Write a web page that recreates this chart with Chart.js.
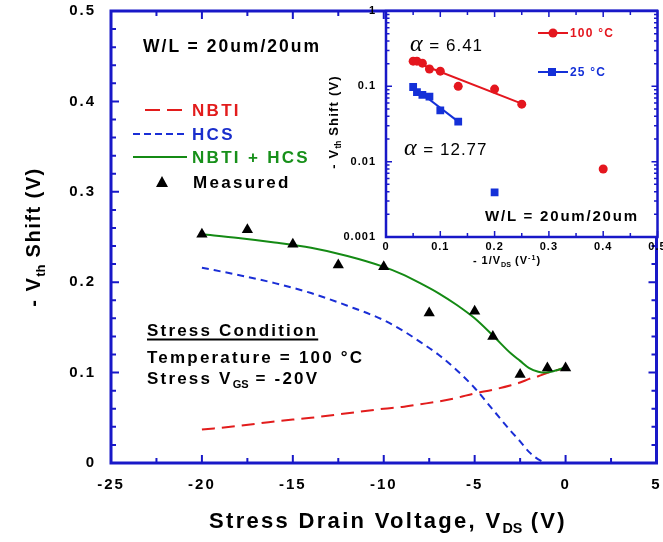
<!DOCTYPE html>
<html>
<head>
<meta charset="utf-8">
<title>Vth shift vs stress drain voltage</title>
<script src="https://cdn.jsdelivr.net/npm/chart.js@4.4.1/dist/chart.umd.min.js"></script>
<style>
    html, body { margin: 0; padding: 0; background: #fff; }
    #page { position: relative; width: 663px; height: 542px; overflow: hidden; }
    canvas { position: absolute; top: 0; }
    .txt { position: absolute; white-space: nowrap; font-family: "Liberation Sans", Arial, sans-serif;
           font-weight: bold; line-height: 1; transform: translateY(-50%); color: #000; }
    .mid { transform: translate(-50%, -50%); }
    .rot { transform: translate(-50%, -50%) rotate(-90deg); }
    .sub { font-size: 65%; position: relative; top: 0.35em; letter-spacing: 0; }
    .sup { font-size: 65%; position: relative; top: -0.55em; }
    .alpha { font-family: "Liberation Serif", "DejaVu Serif", serif; font-style: italic;
             font-weight: normal; font-size: 24px; }
</style>
</head>
<body>
<div id="page">
    <canvas id="mainChart" width="663" height="542" style="left:0"></canvas>
    <canvas id="insetChart" width="363" height="280" style="left:300px"></canvas>

    <!-- legend keys -->
    <svg width="663" height="542" style="position:absolute;left:0;top:0">
        <line x1="145" y1="110" x2="182" y2="110" stroke="#e21c1c" stroke-width="2" stroke-dasharray="15 7"/>
        <line x1="133" y1="134" x2="187" y2="134" stroke="#1a2ed6" stroke-width="2" stroke-dasharray="7 4"/>
        <line x1="133" y1="157" x2="187" y2="157" stroke="#148a14" stroke-width="2"/>
        <polygon points="162,176 168,187 156,187" fill="#000"/>
        <line x1="538" y1="33" x2="568" y2="33" stroke="#e4161e" stroke-width="2"/>
        <circle cx="553" cy="33" r="4.5" fill="#e4161e"/>
        <line x1="538" y1="72" x2="568" y2="72" stroke="#1430d8" stroke-width="2"/>
        <rect x="548" y="68" width="8" height="8" fill="#1430d8"/>
    </svg>

    <!-- main plot texts -->
    <div class="txt" style="left:143px;top:47px;font-size:17.5px;letter-spacing:2px">W/L = 20um/20um</div>
    <div class="txt" style="left:192px;top:110px;font-size:17px;letter-spacing:2.3px;color:#e21c1c">NBTI</div>
    <div class="txt" style="left:192px;top:134px;font-size:17px;letter-spacing:2.3px;color:#1a2ecc">HCS</div>
    <div class="txt" style="left:192px;top:157px;font-size:17px;letter-spacing:2.3px;color:#17901a">NBTI + HCS</div>
    <div class="txt" style="left:193px;top:182px;font-size:17px;letter-spacing:2.3px">Measured</div>
    <div class="txt" style="left:147px;top:330px;font-size:17px;letter-spacing:2.2px;text-decoration:underline;text-decoration-thickness:2px;text-underline-offset:3px">Stress Condition</div>
    <div class="txt" style="left:147px;top:357px;font-size:17px;letter-spacing:2.2px">Temperature = 100 °C</div>
    <div class="txt" style="left:147px;top:378px;font-size:17px;letter-spacing:2.2px">Stress V<span class="sub">GS</span> = -20V</div>
    <div class="txt rot" style="left:33px;top:237px;font-size:20px;letter-spacing:1.5px">- V<span class="sub">th</span> Shift (V)</div>
    <div class="txt mid" style="left:388px;top:521px;font-size:22px;letter-spacing:2.3px">Stress Drain Voltage, V<span class="sub">DS</span> (V)</div>

    <!-- inset texts -->
    <div class="txt" style="left:410px;top:43px;font-size:17px;font-weight:normal;letter-spacing:1px"><span class="alpha">α</span> = 6.41</div>
    <div class="txt" style="left:404px;top:147px;font-size:17px;font-weight:normal;letter-spacing:1px"><span class="alpha">α</span> = 12.77</div>
    <div class="txt" style="left:570px;top:33px;font-size:12px;letter-spacing:1.2px;color:#e4161e">100 °C</div>
    <div class="txt" style="left:570px;top:72px;font-size:12px;letter-spacing:1.2px;color:#1430d8">25 °C</div>
    <div class="txt" style="left:485px;top:215px;font-size:15px;letter-spacing:1.8px">W/L = 20um/20um</div>
    <div class="txt rot" style="left:333px;top:122px;font-size:13px;letter-spacing:1.2px">- V<span class="sub">th</span> Shift (V)</div>
    <div class="txt mid" style="left:507px;top:261px;font-size:11px;letter-spacing:1px">- 1/V<span class="sub">DS</span> (V<span class="sup">-1</span>)</div>
</div>

<script>
// colours
const AXIS_BLUE = '#1818c8';
const NBTI_RED = '#e21c1c';
const HCS_BLUE = '#1a2ed6';
const TOTAL_GREEN = '#148a14';
const INSET_RED = '#e4161e';
const INSET_BLUE = '#1430d8';
const FONT_FAMILY = '"Liberation Sans", Arial, sans-serif';

// main plot: measured points
const measuredVds = [-20, -17.5, -15, -12.5, -10, -7.5, -5, -4, -2.5, -1, 0];
const measuredShift = [0.253, 0.258, 0.242, 0.219, 0.217, 0.166, 0.168, 0.140, 0.098, 0.105, 0.105];

// main plot: model curves
const modelVds = [-20, -18, -16, -14, -12, -10, -9, -8, -7, -6, -5, -4, -3, -2.5, -2, -1.5, -1.1, -0.6, 0];
const nbtiShift = [0.037, 0.041, 0.046, 0.050, 0.055, 0.060, 0.062, 0.065, 0.068, 0.072, 0.077, 0.081, 0.086, 0.089, 0.093, 0.096, 0.099, 0.102, 0.105];
const hcsShift = [0.216, 0.208, 0.199, 0.188, 0.174, 0.158, 0.147, 0.134, 0.120, 0.103, 0.083, 0.059, 0.035, 0.024, 0.012, 0.004, 0, null, null];
const totalShift = [0.253, 0.249, 0.244, 0.238, 0.229, 0.217, 0.209, 0.199, 0.188, 0.175, 0.160, 0.141, 0.121, 0.113, 0.105, 0.101, 0.100, 0.102, 0.106];

// inset: shift vs -1/VDS
const invVds100 = [0.05, 0.057, 0.067, 0.08, 0.1, 0.133, 0.2, 0.25, 0.4];
const shift100 = [0.216, 0.216, 0.203, 0.170, 0.159, 0.100, 0.092, 0.058, 0.0080];
const invVds25 = [0.05, 0.057, 0.067, 0.08, 0.1, 0.133, 0.2];
const shift25 = [0.098, 0.084, 0.077, 0.073, 0.048, 0.034, 0.0039];
const fitX100 = [0.05, 0.25];
const fitY100 = [0.215, 0.059];
const fitX25 = [0.05, 0.133];
const fitY25 = [0.098, 0.034];
const insetYTicks = [0.001, 0.01, 0.1, 1];

function pairs(xs, ys) {
    return xs.map((x, i) => ({ x: x, y: ys[i] }));
}

/**
 * box frame with inward ticks on all four sides
 */
function drawFrame(chart, spec) {
    const ctx = chart.ctx;
    const a = chart.chartArea;
    const x = chart.scales.x;
    const y = chart.scales.y;
    ctx.save();
    ctx.strokeStyle = AXIS_BLUE;
    ctx.lineWidth = spec.tickWidth;
    ctx.beginPath();
    spec.xMarks.forEach(m => {
        const px = x.getPixelForValue(m.v);
        ctx.moveTo(px, a.bottom);
        ctx.lineTo(px, a.bottom - m.len);
        ctx.moveTo(px, a.top);
        ctx.lineTo(px, a.top + m.len);
    });
    spec.yMarks.forEach(m => {
        const py = y.getPixelForValue(m.v);
        ctx.moveTo(a.left, py);
        ctx.lineTo(a.left + m.len, py);
        ctx.moveTo(a.right, py);
        ctx.lineTo(a.right - m.len, py);
    });
    ctx.stroke();
    ctx.lineWidth = spec.frameWidth;
    ctx.strokeRect(a.left, a.top, a.right - a.left, a.bottom - a.top);
    ctx.restore();
}

function framePlugin(spec) {
    return {
        id: 'frame',
        beforeDraw(chart) {
            chart.ctx.letterSpacing = spec.letterSpacing;
            if (spec.fill) {
                const a = chart.chartArea;
                chart.ctx.save();
                chart.ctx.fillStyle = '#fff';
                chart.ctx.fillRect(a.left, a.top, a.right - a.left, a.bottom - a.top);
                chart.ctx.restore();
            }
        },
        afterDatasetsDraw(chart) {
            drawFrame(chart, spec);
        }
    };
}

function tickFont(size) {
    return { family: FONT_FAMILY, size: size, weight: 'bold' };
}

// no gridlines and no library tick marks, the frame plugin draws them
const noGrid = { display: false, drawTicks: false };

function buildMainChart() {
    const xMarks = [];
    for (let i = 0; i <= 12; i++) xMarks.push({ v: -25 + i * 2.5, len: i % 2 === 0 ? 8 : 5 });
    const yMarks = [];
    for (let i = 0; i <= 25; i++) yMarks.push({ v: i * 0.02, len: i % 5 === 0 ? 8 : 5 });

    const ctx = document.getElementById('mainChart').getContext('2d');
    return new Chart(ctx, {
        type: 'scatter',
        data: {
            datasets: [
                {
                    label: 'Measured',
                    data: pairs(measuredVds, measuredShift),
                    showLine: false,
                    pointStyle: 'triangle',
                    pointRadius: 6.5,
                    pointBackgroundColor: '#000',
                    pointBorderWidth: 0,
                    order: 0
                },
                {
                    label: 'NBTI + HCS',
                    data: pairs(modelVds, totalShift),
                    showLine: true,
                    borderColor: TOTAL_GREEN,
                    borderWidth: 2,
                    pointRadius: 0,
                    cubicInterpolationMode: 'monotone',
                    order: 1
                },
                {
                    label: 'HCS',
                    data: pairs(modelVds, hcsShift),
                    showLine: true,
                    borderColor: HCS_BLUE,
                    borderWidth: 2,
                    borderDash: [7, 5],
                    pointRadius: 0,
                    cubicInterpolationMode: 'monotone',
                    order: 2
                },
                {
                    label: 'NBTI',
                    data: pairs(modelVds, nbtiShift),
                    showLine: true,
                    borderColor: NBTI_RED,
                    borderWidth: 2,
                    borderDash: [13, 7],
                    pointRadius: 0,
                    cubicInterpolationMode: 'monotone',
                    order: 3
                }
            ]
        },
        options: {
            responsive: false,
            animation: false,
            devicePixelRatio: 1,
            layout: { padding: { top: 11, right: 4, left: 0, bottom: 0 } },
            plugins: { legend: { display: false }, tooltip: { enabled: false } },
            scales: {
                x: {
                    type: 'linear', min: -25, max: 5,
                    grid: noGrid, border: { display: false },
                    ticks: { stepSize: 5, padding: 13, color: '#000', font: tickFont(15) },
                    afterFit(s) { s.height = 79; s.paddingLeft = 0; s.paddingRight = 0; }
                },
                y: {
                    type: 'linear', min: 0, max: 0.5,
                    grid: noGrid, border: { display: false },
                    ticks: {
                        stepSize: 0.1, padding: 15, color: '#000', font: tickFont(15),
                        callback: v => (v === 0 ? '0' : v.toFixed(1))
                    },
                    afterFit(s) { s.width = 111; s.paddingTop = 0; s.paddingBottom = 0; }
                }
            }
        },
        plugins: [framePlugin({ xMarks, yMarks, tickWidth: 2, frameWidth: 3, letterSpacing: '2px', fill: false })]
    });
}

function buildInsetChart() {
    const xMarks = [];
    for (let i = 0; i <= 10; i++) xMarks.push({ v: i * 0.05, len: i % 2 === 0 ? 6 : 4 });
    const yMarks = [{ v: 1, len: 6 }];
    [0.001, 0.01, 0.1].forEach(d => {
        for (let m = 1; m <= 9; m++) yMarks.push({ v: m * d, len: m === 1 ? 6 : 3.5 });
    });

    const ctx = document.getElementById('insetChart').getContext('2d');
    return new Chart(ctx, {
        type: 'scatter',
        data: {
            datasets: [
                {
                    label: '100 °C',
                    data: pairs(invVds100, shift100),
                    showLine: false,
                    pointStyle: 'circle',
                    pointRadius: 4.5,
                    pointBackgroundColor: INSET_RED,
                    pointBorderWidth: 0
                },
                {
                    label: '100 °C fit',
                    data: pairs(fitX100, fitY100),
                    showLine: true,
                    borderColor: INSET_RED,
                    borderWidth: 2,
                    pointRadius: 0
                },
                {
                    label: '25 °C',
                    data: pairs(invVds25, shift25),
                    showLine: false,
                    pointStyle: 'rect',
                    pointRadius: 5.5,
                    pointBackgroundColor: INSET_BLUE,
                    pointBorderWidth: 0
                },
                {
                    label: '25 °C fit',
                    data: pairs(fitX25, fitY25),
                    showLine: true,
                    borderColor: INSET_BLUE,
                    borderWidth: 2,
                    pointRadius: 0
                }
            ]
        },
        options: {
            responsive: false,
            animation: false,
            devicePixelRatio: 1,
            layout: { padding: { top: 11, right: 4, left: 0, bottom: 0 } },
            plugins: { legend: { display: false }, tooltip: { enabled: false } },
            scales: {
                x: {
                    type: 'linear', min: 0, max: 0.5,
                    grid: noGrid, border: { display: false },
                    ticks: {
                        stepSize: 0.1, padding: 3, color: '#000', font: tickFont(11),
                        callback: v => (v === 0 ? '0' : v.toFixed(1))
                    },
                    afterFit(s) { s.height = 43; s.paddingLeft = 0; s.paddingRight = 0; }
                },
                y: {
                    type: 'logarithmic', min: 0.001, max: 1,
                    grid: noGrid, border: { display: false },
                    afterBuildTicks(s) { s.ticks = insetYTicks.map(v => ({ value: v })); },
                    ticks: { padding: 10, color: '#000', font: tickFont(11), callback: v => String(v) },
                    afterFit(s) { s.width = 86; s.paddingTop = 0; s.paddingBottom = 0; }
                }
            }
        },
        plugins: [framePlugin({ xMarks, yMarks, tickWidth: 1.5, frameWidth: 2.5, letterSpacing: '1px', fill: true })]
    });
}

buildMainChart();
buildInsetChart();
</script>
</body>
</html>
